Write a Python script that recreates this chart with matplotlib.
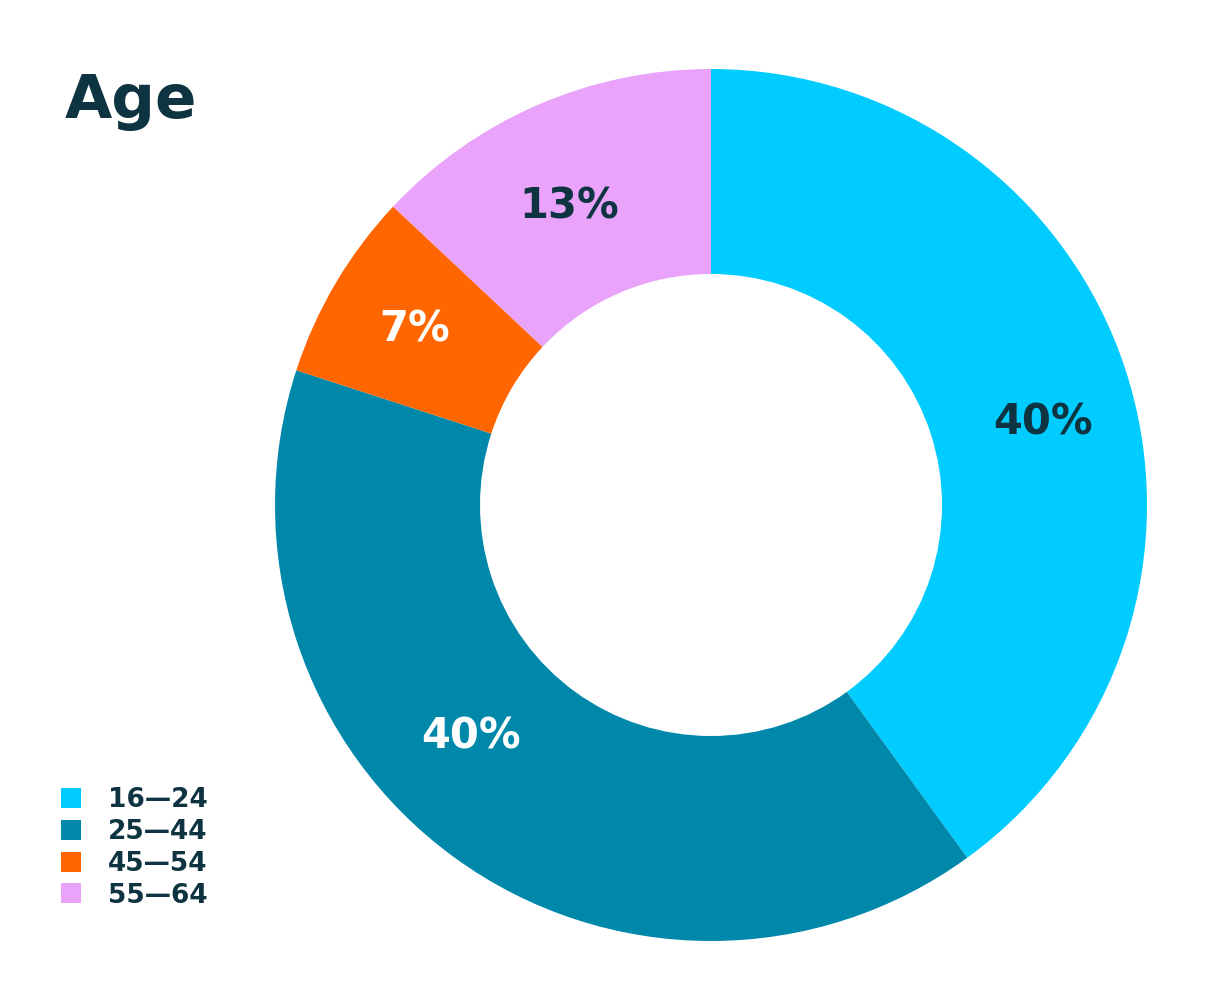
import matplotlib.pyplot as plt
from matplotlib.lines import Line2D
import numpy as np

# Data
age_groups = ['16\u201424', '25\u201444', '45\u201454', '55\u201464']
shares = [40, 40, 7, 13]
colors = ['#00CCFF', '#0088AA', '#FF6600', '#E9A3FB']
label_colors = ['#0E3442', 'white', 'white', '#0E3442']

dark = '#0E3442'
W, H = 1211, 999

fig = plt.figure(figsize=(W / 100, H / 100), dpi=100)
ax = fig.add_axes([0, 0, 1, 1])
ax.set_xlim(0, W)
ax.set_ylim(0, H)
ax.set_aspect('equal')
ax.axis('off')

cx, cy = 711, H - 505
r_out, r_in = 436, 231

ax.pie(shares, colors=colors, startangle=90, counterclock=False,
       center=(cx, cy), radius=r_out, frame=True,
       wedgeprops=dict(width=r_out - r_in, linewidth=0))
ax.set_xlim(0, W)
ax.set_ylim(0, H)
ax.axis('off')

# percentage labels at the middle of each wedge (small nudges like the original)
nudge = [4, 10, 0, -2]
lab_r = [342, 333, 344, 330]
cum = np.cumsum([0] + shares[:-1])
for i, s in enumerate(shares):
    mid = (cum[i] + s / 2) / sum(shares) * 360 + nudge[i]
    x = cx + lab_r[i] * np.sin(np.radians(mid))
    y = cy + lab_r[i] * np.cos(np.radians(mid))
    ax.text(x, y, f'{s}%', ha='center', va='center', fontsize=30,
            fontweight='bold', color=label_colors[i])

# title
ax.text(65, H - 118, 'Age', fontsize=44, fontweight='bold', color=dark,
        ha='left', va='baseline')

# legend
handles = [Line2D([], [], marker='s', linestyle='', markersize=15,
                  markerfacecolor=c, markeredgewidth=0) for c in colors]
leg = ax.legend(handles, age_groups, loc='upper left',
                bbox_to_anchor=(45 / W, 1 - 774 / H), frameon=False,
                fontsize=19, labelcolor=dark, handletextpad=0.9,
                labelspacing=0.22, handlelength=1.0, borderpad=0)
for t in leg.get_texts():
    t.set_fontweight('bold')

fig.savefig('out.png', dpi=100)
